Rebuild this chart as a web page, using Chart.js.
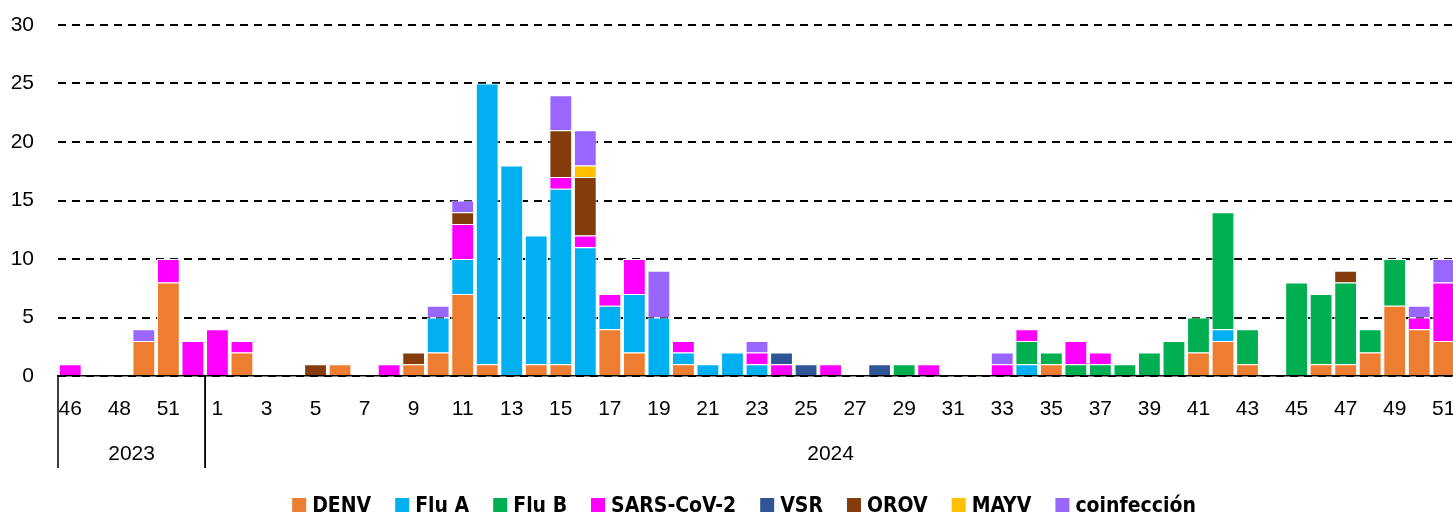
<!DOCTYPE html>
<html>
<head>
<meta charset="utf-8">
<script src="https://cdn.jsdelivr.net/npm/chart.js@4"></script>
<style>
  html, body { margin: 0; padding: 0; background: #fff; overflow: hidden; }
  #wrap { width: 1456px; height: 513px; }
</style>
</head>
<body>
<div id="wrap"><canvas id="chart"></canvas></div>
<script>
// epidemiological weeks (2023 group, then 2024 group)
const weeks2023 = ["46", "47", "48", "50", "51", "52"];
const weeks2024 = ["1", "2", "3", "4", "5", "6", "7", "8", "9", "10",
    "11", "12", "13", "14", "15", "16", "17", "18", "19", "20",
    "21", "22", "23", "24", "25", "26", "27", "28", "29", "30",
    "31", "32", "33", "34", "35", "36", "37", "38", "39", "40",
    "41", "42", "43", "44", "45", "46", "47", "48", "49", "50", "51"];
const years = ["2023", "2024"];
const yTicks = [0, 5, 10, 15, 20, 25, 30];

// counts per week: first 6 values are 2023, then 2024 weeks 1..51
const denv = [0, 0, 0, 3, 8, 0,
    0, 2, 0, 0, 0, 1, 0, 0, 1, 2,
    7, 1, 0, 1, 1, 0, 4, 2, 0, 1,
    0, 0, 0, 0, 0, 0, 0, 0, 0, 0,
    0, 0, 0, 0, 1, 0, 0, 0, 0, 0,
    2, 3, 1, 0, 0, 1, 1, 2, 6, 4,
    3];
const fluA = [0, 0, 0, 0, 0, 0,
    0, 0, 0, 0, 0, 0, 0, 0, 0, 3,
    3, 24, 18, 11, 15, 11, 2, 5, 5, 1,
    1, 2, 1, 0, 0, 0, 0, 0, 0, 0,
    0, 0, 0, 1, 0, 0, 0, 0, 0, 0,
    0, 1, 0, 0, 0, 0, 0, 0, 0, 0,
    0];
const fluB = [0, 0, 0, 0, 0, 0,
    0, 0, 0, 0, 0, 0, 0, 0, 0, 0,
    0, 0, 0, 0, 0, 0, 0, 0, 0, 0,
    0, 0, 0, 0, 0, 0, 0, 0, 1, 0,
    0, 0, 0, 2, 1, 1, 1, 1, 2, 3,
    3, 10, 3, 0, 8, 6, 7, 2, 4, 0,
    0];
const sars = [1, 0, 0, 0, 2, 3,
    4, 1, 0, 0, 0, 0, 0, 1, 0, 0,
    3, 0, 0, 0, 1, 1, 1, 3, 0, 1,
    0, 0, 1, 1, 0, 1, 0, 0, 0, 1,
    0, 0, 1, 1, 0, 2, 1, 0, 0, 0,
    0, 0, 0, 0, 0, 0, 0, 0, 0, 1,
    5];
const vsr = [0, 0, 0, 0, 0, 0,
    0, 0, 0, 0, 0, 0, 0, 0, 0, 0,
    0, 0, 0, 0, 0, 0, 0, 0, 0, 0,
    0, 0, 0, 1, 1, 0, 0, 1, 0, 0,
    0, 0, 0, 0, 0, 0, 0, 0, 0, 0,
    0, 0, 0, 0, 0, 0, 0, 0, 0, 0,
    0];
const orov = [0, 0, 0, 0, 0, 0,
    0, 0, 0, 0, 1, 0, 0, 0, 1, 0,
    1, 0, 0, 0, 4, 5, 0, 0, 0, 0,
    0, 0, 0, 0, 0, 0, 0, 0, 0, 0,
    0, 0, 0, 0, 0, 0, 0, 0, 0, 0,
    0, 0, 0, 0, 0, 0, 1, 0, 0, 0,
    0];
const mayv = [0, 0, 0, 0, 0, 0,
    0, 0, 0, 0, 0, 0, 0, 0, 0, 0,
    0, 0, 0, 0, 0, 1, 0, 0, 0, 0,
    0, 0, 0, 0, 0, 0, 0, 0, 0, 0,
    0, 0, 0, 0, 0, 0, 0, 0, 0, 0,
    0, 0, 0, 0, 0, 0, 0, 0, 0, 0,
    0];
const coinf = [0, 0, 0, 1, 0, 0,
    0, 0, 0, 0, 0, 0, 0, 0, 0, 1,
    1, 0, 0, 0, 3, 3, 0, 0, 4, 0,
    0, 0, 1, 0, 0, 0, 0, 0, 0, 0,
    0, 0, 1, 0, 0, 0, 0, 0, 0, 0,
    0, 0, 0, 0, 0, 0, 0, 0, 0, 1,
    2];

const labels = weeks2023.concat(weeks2024);
const groupSizes = [weeks2023.length, weeks2024.length];

const FONT = "'Liberation Sans', Arial, sans-serif";
const LEGEND_FONT = "'DejaVu Sans Condensed', 'Liberation Sans', sans-serif";

function ds(label, data, color) {
    return {
        label: label,
        data: data,
        backgroundColor: color,
        borderColor: "#ffffff",
        borderWidth: 1,
        barPercentage: 0.93,
        categoryPercentage: 1.0,
    };
}

// year row + separators under the week labels, and the legend at the bottom
const groupAxis = {
    id: "groupAxis",
    afterDraw(chart) {
        const ctx = chart.ctx;
        const x = chart.scales.x;
        const area = chart.chartArea;
        const step = x.getPixelForValue(1) - x.getPixelForValue(0);
        ctx.save();
        ctx.strokeStyle = "#000";
        ctx.lineWidth = 1.5;
        ctx.fillStyle = "#000";
        ctx.font = "21px " + FONT;
        ctx.textAlign = "center";
        ctx.textBaseline = "middle";
        let start = 0;
        groupSizes.forEach((n, i) => {
            const left = x.getPixelForValue(start) - step / 2;
            const right = x.getPixelForValue(start + n - 1) + step / 2;
            ctx.beginPath();
            ctx.moveTo(left, area.bottom);
            ctx.lineTo(left, 468);
            ctx.moveTo(right, area.bottom);
            ctx.lineTo(right, 468);
            ctx.stroke();
            ctx.fillText(years[i], (left + right) / 2, 454);
            start += n;
        });

        // legend
        ctx.font = "bold 21px " + LEGEND_FONT;
        ctx.textAlign = "left";
        ctx.textBaseline = "alphabetic";
        const box = 14, gapText = 6, gapItem = 24;
        const items = chart.data.datasets.map(d => ({ t: d.label, c: d.backgroundColor, w: ctx.measureText(d.label).width }));
        let total = 0;
        items.forEach((it, i) => { total += box + gapText + it.w + (i < items.length - 1 ? gapItem : 0); });
        let lx = 744 - total / 2;
        items.forEach(it => {
            ctx.fillStyle = it.c;
            ctx.fillRect(lx, 498, box, box);
            ctx.fillStyle = "#000";
            ctx.fillText(it.t, lx + box + gapText, 512);
            lx += box + gapText + it.w + gapItem;
        });
        ctx.restore();
    }
};

new Chart(document.getElementById("chart"), {
    type: "bar",
    data: {
        labels: labels,
        datasets: [
            ds("DENV", denv, "#ED7D31"),
            ds("Flu A", fluA, "#00B0F0"),
            ds("Flu B", fluB, "#00B050"),
            ds("SARS-CoV-2", sars, "#FF00FF"),
            ds("VSR", vsr, "#2F5597"),
            ds("OROV", orov, "#843C0C"),
            ds("MAYV", mayv, "#FFC000"),
            ds("coinfección", coinf, "#9966FF"),
        ],
    },
    options: {
        responsive: true,
        maintainAspectRatio: false,
        animation: false,
        layout: { padding: { top: 25, left: 0, right: 0, bottom: 0 } },
        plugins: {
            legend: { display: false },
            tooltip: { enabled: false },
        },
        scales: {
            x: {
                stacked: true,
                grid: { display: false, drawTicks: false },
                border: { display: true, color: "#000", width: 1.5 },
                ticks: {
                    autoSkip: false,
                    maxRotation: 0,
                    padding: 21,
                    color: "#000",
                    font: { family: FONT, size: 21 },
                    callback: function (value, index) {
                        return index % 2 === 0 ? this.getLabelForValue(value) : "";
                    },
                },
                afterFit: scale => {
                    scale.height = 137;
                    scale.paddingLeft = 0;
                    scale.paddingRight = 0;
                },
            },
            y: {
                stacked: true,
                min: 0,
                max: 30,
                afterBuildTicks: scale => {
                    scale.ticks = yTicks.map(v => ({ value: v }));
                },
                grid: { color: "#000", lineWidth: 2, drawTicks: false },
                border: { display: false, dash: [8, 6] },
                ticks: {
                    padding: 24,
                    color: "#000",
                    font: { family: FONT, size: 21 },
                },
                afterFit: scale => {
                    scale.width = 58;
                    scale.paddingTop = 0;
                    scale.paddingBottom = 0;
                },
            },
        },
    },
    plugins: [groupAxis],
});
</script>
</body>
</html>
